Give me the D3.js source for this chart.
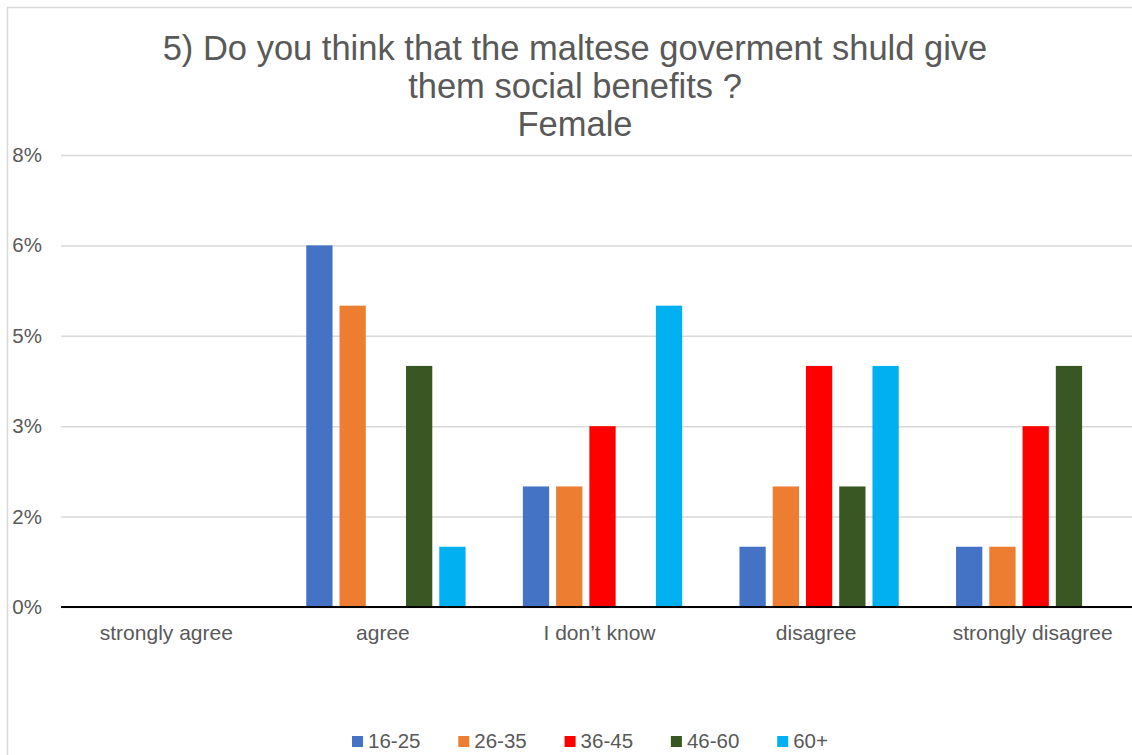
<!DOCTYPE html>
<html>
<head>
<meta charset="utf-8">
<script src="https://cdn.jsdelivr.net/npm/d3@7"></script>
<style>
  html, body { margin: 0; padding: 0; background: #fff; }
  svg { display: block; font-family: "Liberation Sans", Arial, sans-serif; }
</style>
</head>
<body>
<svg id="chart" width="1132" height="755"></svg>
<script>
const categories = ["strongly agree", "agree", "I don\u2019t know", "disagree", "strongly disagree"];
const seriesNames = ["16-25", "26-35", "36-45", "46-60", "60+"];
const seriesColors = ["#4472C4", "#ED7D31", "#FF0000", "#385723", "#00B0F0"];
const values1625 = [0, 0.06, 0.02, 0.01, 0.01];
const values2635 = [0, 0.05, 0.02, 0.02, 0.01];
const values3645 = [0, 0, 0.03, 0.04, 0.03];
const values4660 = [0, 0.04, 0, 0.02, 0.04];
const values60p  = [0, 0.01, 0.05, 0.04, 0];
const tickValues = [0, 0.015, 0.03, 0.045, 0.06, 0.075];
const tickLabels = ["0%", "2%", "3%", "5%", "6%", "8%"];
const titleLines = ["5) Do you think that the maltese goverment shuld give", "them social benefits ?", "Female"];

const seriesValues = [values1625, values2635, values3645, values4660, values60p];

const svg = d3.select("#chart");
const textColor = "#595959";

// outer border
svg.append("rect").attr("x", 7.5).attr("y", 7.5).attr("width", 1200).attr("height", 800)
  .attr("fill", "#fff").attr("stroke", "#d9d9d9").attr("stroke-width", 1.5);

const plotLeft = 61, plotRight = 1144, plotTop = 155, plotBottom = 607;

const x0 = d3.scaleBand().domain(categories).range([plotLeft, plotRight])
  .paddingInner(0.2646).paddingOuter(0.1323);
const x1 = d3.scaleBand().domain(seriesNames).range([0, x0.bandwidth()])
  .paddingInner(0.21).paddingOuter(0);
const y = d3.scaleLinear().domain([0, 0.075]).range([plotBottom, plotTop]);

// gridlines
const grid = svg.append("g").attr("transform", `translate(${plotLeft},0)`)
  .call(d3.axisLeft(y).tickValues(tickValues).tickSize(-(1200 - plotLeft)).tickFormat(""));
grid.select(".domain").remove();
grid.selectAll(".tick line").attr("stroke", "#d9d9d9").attr("stroke-width", 1.5);

// y labels
const yAxis = svg.append("g").attr("transform", `translate(42,0)`)
  .call(d3.axisLeft(y).tickValues(tickValues).tickSize(0).tickPadding(0)
    .tickFormat((d, i) => tickLabels[i]));
yAxis.select(".domain").remove();
yAxis.selectAll("text").attr("fill", textColor).style("font-size", "20.5px")
  .style("font-family", '"Liberation Sans", Arial, sans-serif');

// bars
const rows = [];
categories.forEach((c, ci) => {
  seriesNames.forEach((s, si) => {
    rows.push({ cat: c, ser: s, v: seriesValues[si][ci], color: seriesColors[si] });
  });
});
svg.append("g").selectAll("rect").data(rows.filter(d => d.v > 0)).join("rect")
  .attr("x", d => x0(d.cat) + x1(d.ser))
  .attr("y", d => y(d.v))
  .attr("width", x1.bandwidth())
  .attr("height", d => y(0) - y(d.v))
  .attr("fill", d => d.color);

// x axis
const xAxis = svg.append("g").attr("transform", `translate(0,${plotBottom})`)
  .call(d3.axisBottom(x0).tickSize(0).tickPadding(18.5));
xAxis.select(".domain").attr("stroke", "#000").attr("stroke-width", 2.2)
  .attr("d", `M${plotLeft},0H1200`);
xAxis.selectAll("text").attr("fill", textColor).attr("dx", -3).style("font-size", "21px")
  .style("font-family", '"Liberation Sans", Arial, sans-serif');

// title
const title = svg.append("text").attr("text-anchor", "middle").attr("fill", textColor)
  .style("font-size", "34.5px");
titleLines.forEach((t, i) => {
  title.append("tspan").attr("x", 575).attr("y", 60 + i * 38).text(t);
});

// legend
const legend = svg.append("g").selectAll("g").data(seriesNames).join("g")
  .attr("transform", (d, i) => `translate(${352 + i * 106.3},736)`);
legend.append("rect").attr("width", 11).attr("height", 11)
  .attr("fill", (d, i) => seriesColors[i]);
legend.append("text").attr("x", 16).attr("y", 12).attr("fill", textColor)
  .style("font-size", "20.5px").text(d => d);
</script>
</body>
</html>
